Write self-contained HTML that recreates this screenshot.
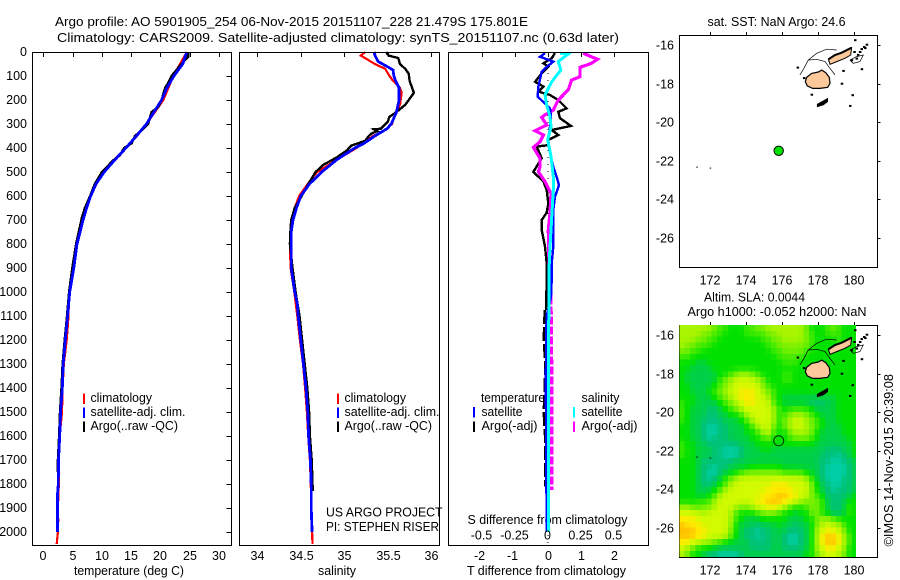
<!DOCTYPE html>
<html lang="en">
<head>
<meta charset="utf-8">
<title>Argo profile 5901905_254</title>
<style>
html,body{margin:0;padding:0;background:#fff;}
svg{display:block;}
text{font-family:"Liberation Sans",Arial,sans-serif;font-size:12.5px;fill:#000;}
</style>
</head>
<body>
<svg id="fig" xmlns="http://www.w3.org/2000/svg" width="900" height="580" viewBox="0 0 900 580">
<rect width="900" height="580" fill="#fff"/>
<text x="55" y="26" textLength="473" lengthAdjust="spacingAndGlyphs">Argo profile: AO 5901905_254 06-Nov-2015 20151107_228 21.479S 175.801E</text>
<text x="57" y="42" textLength="562" lengthAdjust="spacingAndGlyphs">Climatology: CARS2009. Satellite-adjusted climatology: synTS_20151107.nc (0.63d later)</text>

<text x="74" y="575" textLength="110" lengthAdjust="spacingAndGlyphs">temperature (deg C)</text>
<text x="318" y="575" textLength="38" lengthAdjust="spacingAndGlyphs">salinity</text>
<text x="467" y="575" textLength="159" lengthAdjust="spacingAndGlyphs">T difference from climatology</text>
<text x="467.5" y="524" textLength="160" lengthAdjust="spacingAndGlyphs">S difference from climatology</text>

<text x="707.5" y="26" textLength="138" lengthAdjust="spacingAndGlyphs">sat. SST: NaN Argo: 24.6</text>
<text x="704" y="301.5" textLength="101" lengthAdjust="spacingAndGlyphs">Altim. SLA: 0.0044</text>
<text x="687.5" y="316" textLength="179" lengthAdjust="spacingAndGlyphs">Argo h1000: -0.052 h2000: NaN</text>
<text transform="translate(893,546.5) rotate(-90)" textLength="172.5" lengthAdjust="spacingAndGlyphs">©IMOS 14-Nov-2015 20:39:08</text>

<g id="series-layer"></g>
<g id="axes-layer"></g>
<g id="map-layer"></g>

<g>
<rect x="83" y="393.5" width="2" height="10.5" fill="#f00"/>
<rect x="83" y="407.5" width="2" height="10.5" fill="#00f"/>
<rect x="83" y="421.5" width="2" height="10.5" fill="#000"/>
<text x="90.5" y="402" textLength="61.5" lengthAdjust="spacingAndGlyphs">climatology</text>
<text x="90.5" y="416" textLength="95" lengthAdjust="spacingAndGlyphs">satellite-adj. clim.</text>
<text x="90.5" y="430" textLength="87.5" lengthAdjust="spacingAndGlyphs">Argo(..raw -QC)</text>
</g>
<g>
<rect x="337" y="393.5" width="2" height="10.5" fill="#f00"/>
<rect x="337" y="407.5" width="2" height="10.5" fill="#00f"/>
<rect x="337" y="421.5" width="2" height="10.5" fill="#000"/>
<text x="344.5" y="402" textLength="61.5" lengthAdjust="spacingAndGlyphs">climatology</text>
<text x="344.5" y="416" textLength="95" lengthAdjust="spacingAndGlyphs">satellite-adj. clim.</text>
<text x="344.5" y="430" textLength="87.5" lengthAdjust="spacingAndGlyphs">Argo(..raw -QC)</text>
<text x="326" y="516.5" textLength="116.5" lengthAdjust="spacingAndGlyphs">US ARGO PROJECT</text>
<text x="326" y="531" textLength="113" lengthAdjust="spacingAndGlyphs">PI: STEPHEN RISER</text>
</g>
<g>
<text x="481" y="402" textLength="64" lengthAdjust="spacingAndGlyphs">temperature</text>
<rect x="473" y="407" width="2" height="10.5" fill="#00f"/>
<rect x="473" y="421.5" width="2" height="10.5" fill="#000"/>
<text x="481.5" y="416" textLength="41" lengthAdjust="spacingAndGlyphs">satellite</text>
<text x="481.5" y="430" textLength="56" lengthAdjust="spacingAndGlyphs">Argo(-adj)</text>
<text x="581.5" y="402" textLength="38" lengthAdjust="spacingAndGlyphs">salinity</text>
<rect x="573" y="407" width="2" height="10.5" fill="#0ff"/>
<rect x="573" y="421.5" width="2" height="10.5" fill="#f0f"/>
<text x="581.5" y="416" textLength="41" lengthAdjust="spacingAndGlyphs">satellite</text>
<text x="581.5" y="430" textLength="56" lengthAdjust="spacingAndGlyphs">Argo(-adj)</text>
</g>
</svg>

<script>
/* ---------- profile data ---------- */
const tempClimDepth = [0,100,200,250,300,350,400,450,500,550,600,650,800,900,1000,1100,1200,1300,1400,1500,1600,1700,1800,1900,1950,2000,2050];
const tempClimValue = [24.5,22.2,20.5,19.07,17.6,16.0,14.1,12.0,10.1,9.1,8.1,7.3,5.8,5.1,4.4,4.3,4.0,3.5,3.3,3.2,2.8,2.6,2.65,2.5,2.55,2.5,2.28];
const tempArgoDepth = [0,20,50,100,130,150,200,230,250,300,320,350,380,400,430,450,500,550,600,650,690,800,900,1000,1100,1200,1300,1400,1500,1600,1700,1750];
const tempArgoValue = [24.75,24.75,23.6,21.9,21.3,20.8,20.2,19.6,18.5,17.9,17.1,15.65,15.1,13.8,13.1,12.0,10.0,8.8,8.0,7.1,6.6,5.6,4.95,4.4,4.05,3.65,3.3,3.1,2.85,2.7,2.5,2.5];
const tempSatDepth = [0,50,100,150,200,250,300,350,400,450,500,550,600,650,700,800,900,1000,1100,1200,1300,1400,1500,1600,1700,1800,1850,1900,2000];
const tempSatValue = [24.5,23.8,22.3,21.1,20.2,18.9,17.6,15.9,14.1,12.2,10.4,9.0,8.1,7.4,6.8,5.75,5.2,4.5,4.15,3.76,3.4,3.24,2.96,2.8,2.6,2.56,2.4,2.4,2.4];

const salClimDepth = [0,15,30,50,70,100,120,150,170,220,250,300,330,350,400,450,500,530,600,650,700,800,900,1000,1100,1200,1300,1400,1500,1600,1700,1800,1900,2000,2050];
const salClimValue = [35.24,35.19,35.26,35.35,35.47,35.52,35.56,35.64,35.66,35.64,35.59,35.55,35.45,35.33,35.14,34.91,34.69,34.62,34.48,34.43,34.4,34.375,34.383,34.425,34.46,34.49,34.525,34.55,34.57,34.585,34.605,34.615,34.62,34.63,34.635];
const salArgoDepth = [0,15,25,50,70,90,120,140,170,195,220,250,270,290,320,322,330,340,350,370,390,410,440,470,500,530,560,600,650,700,750,800,900,1000,1100,1200,1300,1400,1500,1600,1700,1800,1830];
const salArgoValue = [35.48,35.51,35.62,35.64,35.7,35.74,35.75,35.77,35.8,35.75,35.7,35.6,35.52,35.5,35.42,35.34,35.38,35.31,35.28,35.24,35.08,35.03,34.91,34.76,34.67,34.62,34.57,34.51,34.43,34.39,34.38,34.375,34.405,34.44,34.485,34.515,34.545,34.575,34.595,34.605,34.625,34.635,34.64];
const salSatDepth = [0,20,40,60,75,100,120,150,200,250,300,320,350,380,400,450,500,550,600,650,700,750,800,900,1000,1050,1100,1200,1300,1400,1500,1600,1700,1800,1900,2000];
const salSatValue = [35.34,35.36,35.39,35.49,35.56,35.57,35.59,35.63,35.63,35.6,35.54,35.49,35.35,35.23,35.12,34.91,34.74,34.6,34.5,34.45,34.41,34.39,34.39,34.39,34.43,34.46,34.47,34.5,34.53,34.56,34.58,34.59,34.61,34.62,34.62,34.63];

const diffTSatDepth = [5,20,40,68,82,144,186,235,269,311,367,422,478,519,554,603,658,742,811,881,950,1019,1100,1200,1300,1400,1500,1600,1700,1800,1900,2000];
const diffTSatValue = [-0.09,-0.24,0.16,-0.09,-0.19,-0.29,-0.31,0.06,0.09,0.06,0.01,0.06,0.16,0.26,0.33,0.21,0.16,0.16,0.16,0.11,0.11,0.09,-0.04,-0.06,-0.06,-0.07,-0.06,-0.06,-0.05,-0.05,-0.04,-0.04];
const diffTArgoDepth = [5,26,47,61,89,124,144,165,179,200,235,249,276,308,325,346,367,388,394,443,499,540,575,631,669,700,742,811,881,950,1075];
const diffTArgoValue = [0.21,0.11,-0.14,0.01,-0.19,-0.39,-0.14,-0.29,0.06,0.31,0.56,0.31,0.36,0.69,0.11,0.31,0.01,0.01,-0.34,-0.19,-0.44,-0.14,-0.04,0.01,-0.04,-0.19,-0.19,-0.09,-0.04,-0.04,-0.06];
const diffTArgoDeepDepth = [1075,1200,1300,1400,1500,1600,1700,1810];
const diffTArgoDeepValue = [-0.1,-0.13,-0.08,-0.1,-0.13,-0.09,-0.09,-0.09];
const diffSSatDepth = [5,8,40,75,124,179,221,269,311,367,436,519,575,644,742,811,908,1019,1300,1700,2000];
const diffSSatValue = [0.09,0.1525,0.0775,0.0975,0.0275,-0.0225,-0.01,0.015,0.0225,-0.0025,0.0225,0.04,0.04,0.0325,0.0225,0.015,0.0075,0.0075,0.0025,0.0025,0.0025];
const diffSArgoDepth = [5,20,30,47,64,103,117,158,200,242,262,272,304,328,346,374,397,443,478,499,540,589,672,742,881,1019];
const diffSArgoValue = [0.265,0.3275,0.3725,0.3275,0.24,0.24,0.1775,0.1525,0.0775,0.04,-0.0225,-0.0475,-0.01,-0.0975,-0.035,-0.06,-0.11,-0.06,-0.06,-0.0725,-0.0225,0.0225,0.015,0.0025,0.0075,0.0225];
const diffSArgoDeepDepth = [1019,1300,1600,1825];
const diffSArgoDeepValue = [0.0225,0.0275,0.0275,0.0275];

/* ---------- tick labels ---------- */
const depthTicks = [0,100,200,300,400,500,600,700,800,900,1000,1100,1200,1300,1400,1500,1600,1700,1800,1900,2000];
const tempTicks = [0,5,10,15,20,25,30];
const salTicks = [34,34.5,35,35.5,36];
const diffTTicks = [-2,-1,0,1,2];
const diffSTicks = [-0.5,-0.25,0,0.25,0.5];
const lonTicks = [172,174,176,178,180];
const latTicks = [-16,-18,-20,-22,-24,-26];

/* ---------- map data ---------- */
const argoLon = 175.8;
const argoLat = -21.48;
const vitiLevuLon = [177.28,177.35,177.63,178.0,178.19,178.41,178.61,178.65,178.52,178.09,177.69,177.39];
const vitiLevuLat = [-17.9,-17.68,-17.47,-17.4,-17.3,-17.43,-17.68,-17.99,-18.19,-18.25,-18.25,-18.12];
const vanuaLevuLon = [178.56,178.93,179.3,179.85,179.8,179.48,179.02,178.65];
const vanuaLevuLat = [-16.74,-16.52,-16.4,-16.14,-16.52,-16.69,-16.86,-17.0];
const vanuaNorthLon = [178.56,178.93,179.3,179.85];
const vanuaNorthLat = [-16.74,-16.52,-16.4,-16.14];
const kadavuLon = [177.94,178.19,178.52,178.52,178.28,177.94];
const kadavuLat = [-19.06,-18.94,-18.76,-18.94,-19.11,-19.2];
const reefArcLon = [176.98,177.2,177.44,177.91,178.46,179.02];
const reefArcLat = [-17.55,-17.21,-16.78,-16.43,-16.22,-16.26];
const reefInnerLon = [177.44,177.91,178.37,178.65,178.93];
const reefInnerLat = [-16.78,-16.74,-16.86,-17.21,-17.55];
const reefEastLon = [179.76,180.13,180.5,180.31,179.94,179.76];
const reefEastLat = [-16.78,-16.6,-16.52,-16.86,-16.95,-16.78];
const isletLon = [176.85,177.2,177.63,179.39,180.41,179.9,179.76,179.3,180.04,180.54,180.69,180.31,180.13,179.85,180.4,180.2,180.6,180.0,171.28,172.02];
const isletLat = [-17.16,-17.7,-18.56,-17.33,-17.24,-18.59,-19.14,-17.99,-15.74,-16.09,-15.97,-16.35,-16.69,-16.78,-16.2,-16.5,-16.15,-16.35,-22.34,-22.39];

/* SLA anomaly level per grid cell (0 = low/teal ... 9 = high/orange), north to south */
const slaRows = [
"66666 65443 33445 56666 66653 33454 333",
"66665 54433 33444 45566 66654 33444 333",
"66655 44333 33333 44556 66654 33334 333",
"65544 43333 33333 34455 55554 33334 333",
"55443 33333 33333 33445 55543 33333 333",
"44333 33333 33333 33344 44433 33333 333",
"33322 33333 33333 33334 44333 33333 333",
"33222 23333 33333 33333 33333 33333 333",
"32222 22334 56654 33334 43333 33333 333",
"32222 22456 77776 53334 43333 33333 333",
"33222 23456 77777 54333 33333 33333 333",
"33222 34567 78887 65433 33333 33333 333",
"33322 23456 78887 76432 22222 22223 333",
"43322 22345 67887 77432 22221 11223 333",
"43222 11234 56777 77643 44443 22223 333",
"43222 11223 34677 77634 56654 32223 333",
"43221 11122 23467 77635 67765 43223 333",
"33221 00112 22346 77535 67765 43222 333",
"33221 00112 22334 67433 56665 32222 333",
"33221 01112 22233 45333 45554 32222 233",
"43322 11111 12223 33333 33333 22222 223",
"43322 21100 01222 33222 22222 22111 223",
"43322 21100 01222 22222 22222 21110 123",
"33321 11111 22222 22222 22222 21100 112",
"33321 10112 22233 33332 22222 21000 012",
"33321 00122 34555 55554 44432 21000 012",
"33321 01245 67777 77777 77764 21000 112",
"33321 12346 77777 77888 77775 32100 112",
"33322 23467 77777 78888 87775 32101 112",
"33322 34677 77777 88899 88775 43111 123",
"33344 46777 77778 89998 87655 54211 233",
"66545 56777 65567 78876 43345 54211 243",
"77776 77776 43334 55543 32335 53211 243",
"88877 77776 43222 33333 22233 56654 333",
"98887 77776 32221 22232 21223 56766 433",
"99988 77775 32110 11222 11123 67877 533",
"99988 77775 32110 11221 00123 68998 643",
"88776 65432 22211 11221 00123 68998 643",
"76533 32222 22211 11221 11123 67887 633",
"65332 11000 01222 22222 22233 56776 533"
];
const slaRed = [0,0,0,0,62,120,170,210,255,255];
const slaGreen = [207,194,208,225,234,240,245,250,235,190];
const slaBlue = [168,120,72,0,0,0,0,0,0,0];
const slaCellLon = 0.3;
const slaCellLat = 0.3;
const slaStartLon = 170.28;
const slaStartLat = -15.48;

/* ---------- scales ---------- */
const NS = "http://www.w3.org/2000/svg";
const panelTop = 52, panelBottom = 545;
const yDepth = d => 52 + 0.24 * d;
const xTemp = v => 43.3 + 5.856 * v;
const xSal = v => 257.3 + 87 * (v - 34);
const xDiffT = v => 548 + 33.2 * v;
const xDiffS = v => 548 + 132.8 * v;
const xLon = v => 710.3 + 18 * (v - 172);
const yLatTop = v => 45 + 19.3 * (-16 - v);
const yLatBottom = v => 335 + 19.3 * (-16 - v);

function el(tag, parent) {
  const e = document.createElementNS(NS, tag);
  parent.appendChild(e);
  return e;
}

const seriesLayer = document.getElementById("series-layer");
const axesLayer = document.getElementById("axes-layer");
const mapLayer = document.getElementById("map-layer");

function profile(name, depths, values, xFn, color, width, dash) {
  const p = el("path", seriesLayer);
  
  
  p.setAttribute("d", depths.map((d, i) => (i ? "L" : "M") + xFn(values[i]).toFixed(1) + " " + yDepth(d).toFixed(1)).join(""));
  p.setAttribute("fill", "none");
  p.setAttribute("stroke", color);
  p.setAttribute("stroke-width", width);
  p.setAttribute("shape-rendering", "crispEdges");
  if (dash) p.setAttribute("stroke-dasharray", dash);
}

/* temperature panel */
profile("temperature-climatology-line", tempClimDepth, tempClimValue, xTemp, "#f00", 2.2);
profile("temperature-argo-line", tempArgoDepth, tempArgoValue, xTemp, "#000", 2.4);
profile("temperature-satellite-line", tempSatDepth, tempSatValue, xTemp, "#00f", 2.8);
/* salinity panel */
profile("salinity-climatology-line", salClimDepth, salClimValue, xSal, "#f00", 2.2);
profile("salinity-argo-line", salArgoDepth, salArgoValue, xSal, "#000", 2.4);
profile("salinity-satellite-line", salSatDepth, salSatValue, xSal, "#00f", 2.8);
/* difference panel */
const zeroLine = el("line", seriesLayer);


zeroLine.setAttribute("x1", xDiffT(0));
zeroLine.setAttribute("x2", xDiffT(0));
zeroLine.setAttribute("y1", panelTop);
zeroLine.setAttribute("y2", panelBottom);
zeroLine.setAttribute("stroke", "#000");
zeroLine.setAttribute("stroke-width", 1);
zeroLine.setAttribute("stroke-dasharray", "1 6");
profile("t-difference-argo-line", diffTArgoDepth, diffTArgoValue, xDiffT, "#000", 2.4);
profile("t-difference-argo-deep-line", diffTArgoDeepDepth, diffTArgoDeepValue, xDiffT, "#000", 2.4, "14 3");
profile("s-difference-argo-line", diffSArgoDepth, diffSArgoValue, xDiffS, "#f0f", 3.2);
profile("s-difference-argo-deep-line", diffSArgoDeepDepth, diffSArgoDeepValue, xDiffS, "#f0f", 3.2, "8 2");
profile("t-difference-satellite-line", diffTSatDepth, diffTSatValue, xDiffT, "#00f", 2.4);
profile("s-difference-satellite-line", diffSSatDepth, diffSSatValue, xDiffS, "#0ff", 3);

/* axes helpers */
function box(name, x1, x2, y1, y2) {
  const r = el("rect", axesLayer);
  
  
  r.setAttribute("x", x1);
  r.setAttribute("y", y1);
  r.setAttribute("width", x2 - x1);
  r.setAttribute("height", y2 - y1);
  r.setAttribute("fill", "none");
  r.setAttribute("stroke", "#000");
  r.setAttribute("stroke-width", 1);
}
function tick(x1, y1, x2, y2) {
  const l = el("line", axesLayer);
  
  
  l.setAttribute("x1", x1);
  l.setAttribute("y1", y1);
  l.setAttribute("x2", x2);
  l.setAttribute("y2", y2);
  l.setAttribute("stroke", "#000");
  l.setAttribute("stroke-width", 1);
}
function label(str, x, y, anchor) {
  const t = el("text", axesLayer);
  
  
  t.setAttribute("x", x);
  t.setAttribute("y", y);
  t.setAttribute("text-anchor", anchor);
  t.textContent = str;
}

box("temperature-panel-frame", 32.5, 231.5, 52.5, 545.5);
box("salinity-panel-frame", 239.5, 439.5, 52.5, 545.5);
box("difference-panel-frame", 448.5, 648.5, 52.5, 545.5);

depthTicks.forEach(d => {
  const y = Math.round(yDepth(d)) + 0.5;
  tick(226.5, y, 231.5, y);
  label(String(d), 27, y + 3.5, "end");
});
tempTicks.forEach(v => {
  const x = Math.round(xTemp(v)) + 0.5;
  tick(x, 52.5, x, 57);
  label(String(v), x - 0.5, 560, "middle");
});
salTicks.forEach(v => {
  const x = Math.round(xSal(v)) + 0.5;
  tick(x, 52.5, x, 57);
  label(String(v), x, 560, "middle");
});
diffTTicks.forEach(v => {
  const x = Math.round(xDiffT(v)) + 0.5;
  tick(x, 52.5, x, 57);
  label(String(v), x - (v < 0 ? 3 : 0), 560, "middle");
});
diffSTicks.forEach(v => {
  const x = Math.round(xDiffS(v));
  label(String(v), x - 0.5, 539.5, "middle");
});

/* maps */
function polyPath(lons, lats, yFn, closed) {
  return lons.map((v, i) => (i ? "L" : "M") + xLon(v).toFixed(1) + " " + yFn(lats[i]).toFixed(1)).join("") + (closed ? "Z" : "");
}
function shape(parent, name, d, fill, stroke, sw) {
  const p = el("path", parent);
  
  
  p.setAttribute("d", d);
  p.setAttribute("fill", fill);
  p.setAttribute("stroke", stroke);
  p.setAttribute("stroke-width", sw);
}
function drawCoast(parent, yFn) {
  shape(parent, "reef-outline", polyPath(reefArcLon, reefArcLat, yFn, false), "none", "#000", 0.7);
  shape(parent, "reef-outline", polyPath(reefInnerLon, reefInnerLat, yFn, false), "none", "#000", 0.7);
  shape(parent, "reef-outline", polyPath(reefEastLon, reefEastLat, yFn, false), "none", "#000", 0.7);
  shape(parent, "viti-levu-island", polyPath(vitiLevuLon, vitiLevuLat, yFn, true), "#fdc99b", "#000", 1.2);
  shape(parent, "vanua-levu-island", polyPath(vanuaLevuLon, vanuaLevuLat, yFn, true), "#fdc99b", "#000", 1);
  shape(parent, "vanua-levu-north-coast", polyPath(vanuaNorthLon, vanuaNorthLat, yFn, false), "none", "#000", 2);
  shape(parent, "kadavu-island", polyPath(kadavuLon, kadavuLat, yFn, true), "#000", "#000", 0.6);
  isletLon.forEach((lon, i) => {
    const r = el("rect", parent);
    
    
    r.setAttribute("x", (xLon(lon) - 1).toFixed(1));
    r.setAttribute("y", (yFn(isletLat[i]) - 0.75).toFixed(1));
    r.setAttribute("width", lon < 175 ? 1.5 : 2.5);
    r.setAttribute("height", lon < 175 ? 1 : 2);
    r.setAttribute("fill", "#000");
  });
}
function mapAxes(name, top, bottom, yFn) {
  box(name, 679.5, 877.5, top + 0.5, bottom + 0.5);
  lonTicks.forEach(v => {
    const x = Math.round(xLon(v)) + 0.5;
    tick(x, top - 3, x, top + 0.5);
    label(String(v), x - 0.5, bottom + 17.5, "middle");
  });
  latTicks.forEach(v => {
    const y = Math.round(yFn(v)) + 0.5;
    tick(877.5, y, 880.5, y);
    label(String(v), 674, y + 4, "end");
  });
}

const topMap = el("g", mapLayer);


drawCoast(topMap, yLatTop);
const topMarker = el("circle", topMap);


topMarker.setAttribute("cx", xLon(argoLon));
topMarker.setAttribute("cy", yLatTop(argoLat));
topMarker.setAttribute("r", 4.7);
topMarker.setAttribute("fill", "#00e100");
topMarker.setAttribute("stroke", "#000");
topMarker.setAttribute("stroke-width", 1);

const bottomMap = el("g", mapLayer);


const heat = el("g", bottomMap);


heat.setAttribute("shape-rendering", "crispEdges");

const slaGrid = slaRows.map(row => row.replace(/ /g, "").split("").map(Number));
function slaAt(r, c) {
  const rr = Math.max(0, Math.min(slaGrid.length - 1, r));
  const row = slaGrid[rr];
  return row[Math.max(0, Math.min(row.length - 1, c))];
}
function slaSmooth(r, c) {
  return (8 * slaAt(r, c)
    + 2 * (slaAt(r - 1, c) + slaAt(r + 1, c) + slaAt(r, c - 1) + slaAt(r, c + 1))
    + slaAt(r - 1, c - 1) + slaAt(r - 1, c + 1) + slaAt(r + 1, c - 1) + slaAt(r + 1, c + 1)) / 20;
}
function slaColor(v) {
  const i = Math.min(8, Math.floor(v));
  const f = v - i;
  const mix = a => Math.round(a[i] + (a[i + 1] - a[i]) * f);
  return "rgb(" + mix(slaRed) + "," + mix(slaGreen) + "," + mix(slaBlue) + ")";
}
slaGrid.forEach((cells, r) => {
  cells.forEach((level, c) => {
    const lon0 = slaStartLon + c * slaCellLon;
    const lat0 = slaStartLat - r * slaCellLat;
    const x0 = xLon(lon0);
    const x1 = Math.min(xLon(lon0 + slaCellLon), xLon(180.08));
    const y0 = yLatBottom(lat0);
    const y1 = Math.min(yLatBottom(lat0 - slaCellLat), 557);
    const cell = el("rect", heat);
    
    
    cell.setAttribute("x", x0.toFixed(2));
    cell.setAttribute("y", y0.toFixed(2));
    cell.setAttribute("width", (x1 - x0 + 0.5).toFixed(2));
    cell.setAttribute("height", (y1 - y0 + 0.5).toFixed(2));
    cell.setAttribute("fill", slaColor(slaSmooth(r, c)));
  });
});
drawCoast(bottomMap, yLatBottom);
const bottomMarker = el("circle", bottomMap);


bottomMarker.setAttribute("cx", xLon(argoLon));
bottomMarker.setAttribute("cy", yLatBottom(argoLat));
bottomMarker.setAttribute("r", 5);
bottomMarker.setAttribute("fill", "none");
bottomMarker.setAttribute("stroke", "#003000");
bottomMarker.setAttribute("stroke-width", 1);

mapAxes("sst-map-frame", 35, 267, yLatTop);
mapAxes("sla-map-frame", 325, 557, yLatBottom);
</script>
</body>
</html>
